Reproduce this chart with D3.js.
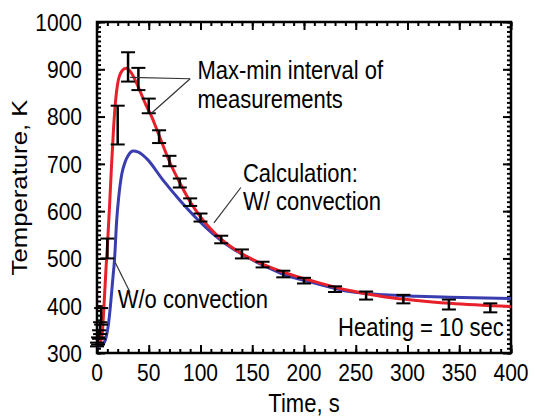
<!DOCTYPE html>
<html>
<head>
<meta charset="utf-8">
<script src="https://cdn.jsdelivr.net/npm/d3@7"></script>
<style>
  html, body { margin: 0; padding: 0; background: #fff; }
  svg { display: block; font-family: "Liberation Sans", Arial, sans-serif; }
</style>
</head>
<body>
<svg id="chart" width="535" height="419"></svg>
<script>
// Measured temperature (max-min interval) and calculated curves
const measTime = [0, 1, 2, 3, 4, 10, 20, 30, 40, 50, 60, 70, 80, 90, 100, 120, 140, 160, 180, 200, 230, 260, 296, 340, 380];
const measMin  = [314, 318, 330, 340, 360, 500, 741, 874, 856, 807, 744, 695, 650, 611, 578, 532, 500, 481, 460, 447, 429, 413, 405, 392, 386];
const measMax  = [322, 333, 348, 365, 395, 542, 823, 936, 903, 838, 771, 717, 669, 627, 595, 548, 519, 493, 474, 459, 441, 430, 423, 413, 405];

// Calculation: W/ convection
const withConvTime = [0, 3, 5, 6, 7, 8, 9, 10, 11, 12, 13, 14, 16, 18, 20, 24, 28, 33, 40, 47, 53, 60, 70, 80, 90, 100, 120, 140, 160, 180, 212, 244, 277, 309, 341, 400];
const withConvTemp = [318, 322, 340, 370, 410, 450, 490, 525, 565, 605, 650, 695, 775, 835, 870, 896, 902, 893, 862, 826, 799, 760, 705, 660, 620, 588, 541, 510, 488, 471, 450, 432, 419, 411, 405, 398];

// Calculation: W/o convection
const noConvTime = [0, 4, 7, 9, 11, 13, 15, 17, 19, 21, 24, 27, 30, 35, 40, 48, 64, 80, 96, 112, 128, 145, 161, 177, 212, 244, 277, 309, 341, 400];
const noConvTemp = [314, 316, 322, 335, 360, 400, 450, 500, 580, 630, 679, 703, 717, 727, 725, 711, 665, 623, 585, 552, 525, 503, 485, 469, 447, 430, 423, 420, 418, 415];

const xTicks = [0, 50, 100, 150, 200, 250, 300, 350, 400];
const yTicks = [300, 400, 500, 600, 700, 800, 900, 1000];

const margin = { left: 97, top: 22, right: 24, bottom: 66 };
const W = 535, H = 419;
const iw = W - margin.left - margin.right;
const ih = H - margin.top - margin.bottom;
const FONT = '"Liberation Sans", Arial, sans-serif';
const STRETCH = 1.17;   // glyphs are drawn taller than wide

const svg = d3.select("#chart");
const g = svg.append("g").attr("transform", `translate(${margin.left},${margin.top})`);

const x = d3.scaleLinear().domain([0, 400]).range([0, iw]);
const y = d3.scaleLinear().domain([300, 1000]).range([ih, 0]);

const minorX = d3.range(0, 401, 10);
const minorY = d3.range(300, 1001, 10);

function styleAxis(sel) {
  sel.select(".domain").remove();
  sel.selectAll(".tick line").attr("stroke", "#000").attr("stroke-width", 2);
  sel.selectAll("text").remove();
}

// Text helper: places a horizontally written, vertically stretched label
function label(parent, px, py, str, size, anchor) {
  return parent.append("text")
    .attr("transform", `translate(${px},${py}) scale(1,${STRETCH})`)
    .attr("text-anchor", anchor || "start")
    .style("font-size", size + "px").style("font-family", FONT)
    .attr("fill", "#000").text(str);
}

// Minor ticks (inward on all four sides)
g.append("g").attr("transform", `translate(0,${ih})`)
  .call(d3.axisBottom(x).tickValues(minorX).tickSize(-4)).call(styleAxis);
g.append("g")
  .call(d3.axisTop(x).tickValues(minorX).tickSize(-4)).call(styleAxis);
g.append("g")
  .call(d3.axisLeft(y).tickValues(minorY).tickSize(-4)).call(styleAxis);
g.append("g").attr("transform", `translate(${iw},0)`)
  .call(d3.axisRight(y).tickValues(minorY).tickSize(-4)).call(styleAxis);

// Major ticks
g.append("g").attr("transform", `translate(0,${ih})`)
  .call(d3.axisBottom(x).tickValues(xTicks).tickSize(-8)).call(styleAxis);
g.append("g")
  .call(d3.axisTop(x).tickValues(xTicks).tickSize(-8)).call(styleAxis);
g.append("g")
  .call(d3.axisLeft(y).tickValues(yTicks).tickSize(-8)).call(styleAxis);
g.append("g").attr("transform", `translate(${iw},0)`)
  .call(d3.axisRight(y).tickValues(yTicks).tickSize(-8)).call(styleAxis);

// Tick labels
const tickFmt = d3.format("d");
const xLab = g.append("g");
xTicks.forEach(v => label(xLab, x(v), ih + 28, tickFmt(v), 21, "middle"));
const yLab = g.append("g");
yTicks.forEach(v => label(yLab, -15, y(v) + 8.8, tickFmt(v), 21, "end"));

// Frame
g.append("rect").attr("x", 0).attr("y", 0).attr("width", iw).attr("height", ih)
  .attr("fill", "none").attr("stroke", "#000").attr("stroke-width", 2.5);

// Calculated curves
const line = d3.line().x(d => x(d[0])).y(d => y(d[1])).curve(d3.curveMonotoneX);
g.append("path").datum(noConvTime.map((t, i) => [t, noConvTemp[i]]))
  .attr("d", line).attr("fill", "none").attr("stroke", "#3a3db0").attr("stroke-width", 3);
g.append("path").datum(withConvTime.map((t, i) => [t, withConvTemp[i]]))
  .attr("d", line).attr("fill", "none").attr("stroke", "#e8202a").attr("stroke-width", 3);

// Measurement intervals
const bars = measTime.map((t, i) => ({ t, lo: measMin[i], hi: measMax[i] }));
const eb = g.append("g").attr("stroke", "#000").attr("stroke-width", 2.5);
const capW = 7;
eb.selectAll("line.v").data(bars).join("line").attr("class", "v")
  .attr("x1", d => x(d.t)).attr("x2", d => x(d.t))
  .attr("y1", d => y(d.lo)).attr("y2", d => y(d.hi));
eb.selectAll("line.hi").data(bars).join("line").attr("class", "hi")
  .attr("x1", d => x(d.t) - capW).attr("x2", d => x(d.t) + capW)
  .attr("y1", d => y(d.hi)).attr("y2", d => y(d.hi)).attr("stroke-width", 2);
eb.selectAll("line.lo").data(bars).join("line").attr("class", "lo")
  .attr("x1", d => x(d.t) - capW).attr("x2", d => x(d.t) + capW)
  .attr("y1", d => y(d.lo)).attr("y2", d => y(d.lo)).attr("stroke-width", 2);

// Annotations
const note = g.append("g");
const lead = g.append("g").attr("stroke", "#333").attr("stroke-width", 1.2);

// Max-min interval leaders
const apex = [90, 880];
lead.append("line").attr("x1", x(apex[0])).attr("y1", y(apex[1]))
  .attr("x2", x(32)).attr("y2", y(883));
lead.append("line").attr("x1", x(apex[0])).attr("y1", y(apex[1]))
  .attr("x2", x(52)).attr("y2", y(806));
label(note, x(97), y(879), "Max-min interval of", 22);
label(note, x(97), y(818), "measurements", 22);

// Calculation leader
lead.append("line").attr("x1", x(139)).attr("y1", y(650))
  .attr("x2", x(113)).attr("y2", y(575));
label(note, x(141), y(661), "Calculation:", 22);
label(note, x(141), y(602), "W/ convection", 22);

// W/o convection leader
lead.append("line").attr("x1", x(32)).attr("y1", y(428))
  .attr("x2", x(17.5)).attr("y2", y(492));
label(note, x(20), y(395), "W/o convection", 22);

label(note, x(393), y(335), "Heating = 10 sec", 22, "end");

// Axis titles
label(svg, margin.left + iw / 2, 412, "Time, s", 22, "middle");
svg.append("text")
  .attr("transform", `translate(27,${margin.top + ih / 2}) rotate(-90) scale(${STRETCH},1)`)
  .attr("text-anchor", "middle").style("font-size", "22px").style("font-family", FONT)
  .text("Temperature, K");
</script>
</body>
</html>
